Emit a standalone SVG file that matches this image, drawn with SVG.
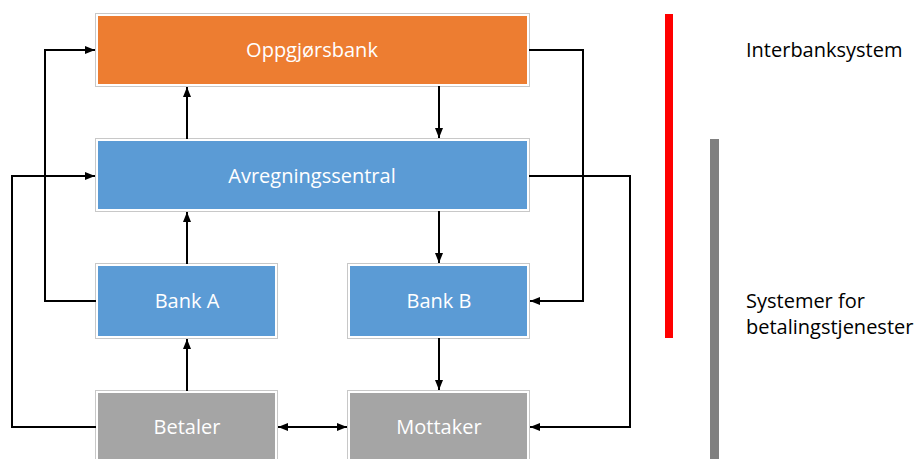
<svg xmlns="http://www.w3.org/2000/svg" width="917" height="459" viewBox="0 0 917 459">
<defs>
<style>
.box{stroke:#fff;stroke-width:2}
.frame{fill:none;stroke:#c8c8c8;stroke-width:1}
.lbl{font-family:"Open Sans","Liberation Sans",sans-serif;font-size:20px;fill:#fff;text-anchor:middle}
.side{font-family:"Open Sans","Liberation Sans",sans-serif;font-size:20px;fill:#000}
.conn{fill:none;stroke:#000;stroke-width:2}
</style>
<marker id="ah" markerUnits="userSpaceOnUse" markerWidth="10" markerHeight="10" viewBox="0 0 10 10" refX="10" refY="5" orient="auto-start-reverse">
<path d="M0,1 L10,5 L0,9 Z" fill="#000"/>
</marker>
</defs>
<rect width="917" height="459" fill="#fff"/>
<g id="oppgjorsbank">
<rect class="frame" x="95.5" y="13.5" width="434" height="73"/>
<rect class="box" x="97" y="15" width="431" height="70" fill="#ED7D31"/>
<text class="lbl" x="312" y="57">Oppgjørsbank</text>
</g>
<g id="avregningssentral">
<rect class="frame" x="95.5" y="138.5" width="434" height="73"/>
<rect class="box" x="97" y="140" width="431" height="70" fill="#5B9BD5"/>
<text class="lbl" x="312" y="183">Avregningssentral</text>
</g>
<g id="bankA">
<rect class="frame" x="95.5" y="263.5" width="182" height="75"/>
<rect class="box" x="97" y="265" width="179" height="72" fill="#5B9BD5"/>
<text class="lbl" x="187" y="308">Bank A</text>
</g>
<g id="bankB">
<rect class="frame" x="347.5" y="263.5" width="182" height="75"/>
<rect class="box" x="349" y="265" width="179" height="72" fill="#5B9BD5"/>
<text class="lbl" x="439" y="308">Bank B</text>
</g>
<g id="betaler">
<rect class="frame" x="95.5" y="390.5" width="182" height="75"/>
<rect class="box" x="97" y="392" width="179" height="72" fill="#A5A5A5"/>
<text class="lbl" x="187" y="434">Betaler</text>
</g>
<g id="mottaker">
<rect class="frame" x="347.5" y="390.5" width="182" height="75"/>
<rect class="box" x="349" y="392" width="179" height="72" fill="#A5A5A5"/>
<text class="lbl" x="439" y="434">Mottaker</text>
</g>
<g id="connectors">
<polyline class="conn" points="96,301 45,301 45,50 95,50" marker-end="url(#ah)"/>
<polyline class="conn" points="96,427 12,427 12,176 95,176" marker-end="url(#ah)"/>
<line class="conn" x1="187" y1="139" x2="187" y2="87" marker-end="url(#ah)"/>
<line class="conn" x1="187" y1="264" x2="187" y2="212" marker-end="url(#ah)"/>
<line class="conn" x1="187" y1="391" x2="187" y2="339" marker-end="url(#ah)"/>
<line class="conn" x1="439" y1="86" x2="439" y2="138" marker-end="url(#ah)"/>
<line class="conn" x1="439" y1="211" x2="439" y2="263" marker-end="url(#ah)"/>
<line class="conn" x1="439" y1="338" x2="439" y2="390" marker-end="url(#ah)"/>
<polyline class="conn" points="529,50 583,50 583,301 530,301" marker-end="url(#ah)"/>
<polyline class="conn" points="529,176 630,176 630,427 530,427" marker-end="url(#ah)"/>
<line class="conn" x1="278" y1="427" x2="347" y2="427" marker-start="url(#ah)" marker-end="url(#ah)"/>
</g>
<g id="legend">
<rect x="665" y="14" width="8" height="324" fill="#FF0000"/>
<rect x="710" y="139" width="9" height="320" fill="#808080"/>
<text class="side" x="746" y="57">Interbanksystem</text>
<text class="side" x="746" y="308">Systemer for</text>
<text class="side" x="746" y="334">betalingstjenester</text>
</g>
</svg>
